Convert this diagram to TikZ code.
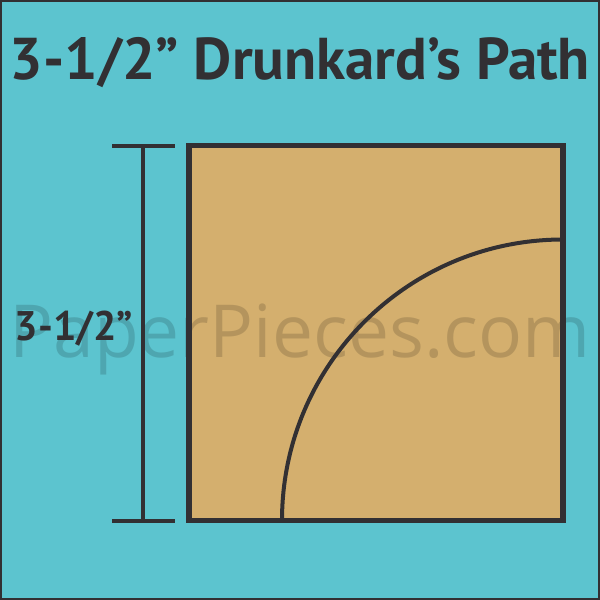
\documentclass[tikz,border=0pt]{standalone}
\usepackage{fontspec}
\newfontfamily\ptsans{PT Sans}
\newfontfamily\opensans{Open Sans}
\definecolor{tealbg}{RGB}{92,196,207}
\definecolor{patchtan}{RGB}{212,175,110}
\definecolor{inkdark}{RGB}{50,48,51}

\begin{document}
\begin{tikzpicture}[x=0.75pt,y=0.75pt,yscale=-1,xscale=1]
\useasboundingbox (0,0) rectangle (600,600);

%Shape: Rectangle [id:background]
\draw [draw=inkdark, fill=tealbg, line width=1.5] (1,1) rectangle (599,599);
%Shape: Square [id:patch]
\fill [patchtan] (189,145.5) rectangle (563,520.5);
\coordinate (corner) at (563,520.5);
\coordinate (arcstart) at (282,520.5);

% Text Node
\node (watermark) at (300,357) [anchor=base][inner sep=0pt] [text=black, text opacity=0.15] {\resizebox{436pt}{!}{\opensans\fontsize{60}{60}\selectfont PaperPieces.com}};

%Shape: Square border [id:patchborder]
\draw [draw=inkdark, line width=3.9] (189,145.5) rectangle (563,520.5);
%Curve Lines [id:curve]
\draw [draw=inkdark, line width=3] (arcstart) arc [start angle=180, end angle=270, radius=281];

%Straight Lines [id:dimension]
\coordinate (dimtop) at (143,146);
\coordinate (dimbot) at (143,521);
\draw [draw=inkdark, line width=3] (dimtop) -- (dimbot);
\draw [draw=inkdark, line width=3] ([xshift=-31*0.75pt]dimtop) -- ([xshift=32*0.75pt]dimtop);
\draw [draw=inkdark, line width=3] ([xshift=-31*0.75pt]dimbot) -- ([xshift=32*0.75pt]dimbot);

% Text Node
\node (title) at (300,79) [anchor=base][inner sep=0pt] [text=inkdark] {\resizebox{435pt}{!}{\ptsans\bfseries\fontsize{43}{43}\selectfont 3-1/2” Drunkard’s Path}};
% Text Node
\node (sidelabel) at (74,340) [anchor=base][inner sep=0pt] [text=inkdark] {\ptsans\bfseries\fontsize{31}{31}\selectfont 3-1/2”};

\end{tikzpicture}
\end{document}
